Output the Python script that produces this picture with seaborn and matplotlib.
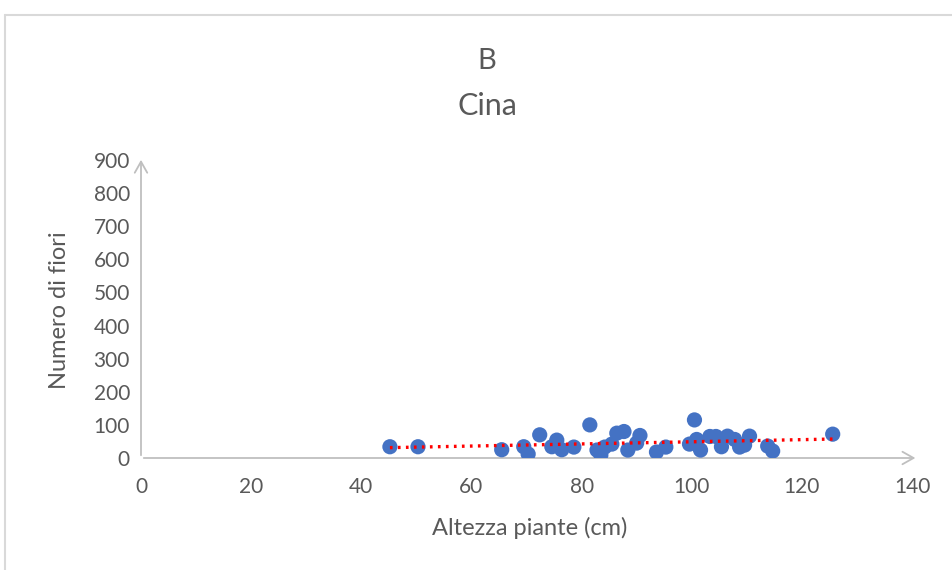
import matplotlib
matplotlib.use("Agg")
import matplotlib.pyplot as plt
from matplotlib.lines import Line2D
import seaborn as sns
import numpy as np
import pandas as pd

altezza = [45.2, 50.3, 65.5, 69.5, 70.3, 72.4, 74.6, 75.5, 76.4, 78.6, 81.5, 82.8,
           83.5, 84.2, 85.5, 86.4, 87.7, 88.4, 90.0, 90.6, 93.6, 95.3, 99.6, 100.5,
           100.9, 101.6, 103.3, 104.4, 105.4, 106.5, 107.8, 108.7, 109.6, 110.5,
           113.8, 114.7, 125.6]
fiori = [34, 34, 25, 34, 12, 70, 34, 54, 25, 33, 100, 24,
         9, 33, 42, 75, 80, 24, 45, 68, 18, 33, 42, 115,
         56, 24, 65, 65, 34, 66, 56, 33, 39, 66,
         36, 21, 72]

title_lines = ["B", "Cina"]
x_label = "Altezza piante (cm)"
y_label = "Numero di fiori"
x_ticks = [0, 20, 40, 60, 80, 100, 120, 140]
y_ticks = [0, 100, 200, 300, 400, 500, 600, 700, 800, 900]

df = pd.DataFrame({"x": altezza, "y": fiori})

sns.set_style("white")
plt.rcParams['font.family'] = ['Lato', 'DejaVu Sans']
gray = "#595959"

fig = plt.figure(figsize=(9.52, 5.70), dpi=100)
ax = fig.add_axes([141/952, 1-458/570, (912-141)/952, (458-160)/570])

sns.regplot(data=df, x="x", y="y", ax=ax, ci=None, truncate=True,
            scatter_kws=dict(s=120, color="#4472C4", alpha=1, edgecolor="none", zorder=3),
            line_kws=dict(color="#FF0000", linestyle=(0, (0.8, 1.6)), linewidth=2.4, zorder=4))

ax.set_xlim(0, 140)
ax.set_ylim(0, 900)
ax.set_xticks(x_ticks)
ax.set_yticks(y_ticks)
ax.tick_params(axis="both", length=0, labelsize=15, labelcolor=gray)
ax.tick_params(axis="x", pad=14)
ax.tick_params(axis="y", pad=8)
for s in ax.spines.values():
    s.set_visible(False)
ax.set_xlabel("")
ax.set_ylabel("")
fig.text(530/952, 1-528/570, x_label, ha="center", va="center", fontsize=17, color=gray)
fig.text(60/952, 1-310/570, y_label, ha="center", va="center", fontsize=17, color=gray,
         rotation=90)

arrow_kw = dict(arrowstyle="->,head_length=0.8,head_width=0.45", color="#bfbfbf", lw=1.3)
ax.annotate("", xy=(1.008, 0), xytext=(0, 0), xycoords="axes fraction",
            textcoords="axes fraction", arrowprops=arrow_kw, annotation_clip=False, zorder=1)
ax.annotate("", xy=(0, 1.01), xytext=(0, 0), xycoords="axes fraction",
            textcoords="axes fraction", arrowprops=arrow_kw, annotation_clip=False, zorder=1)

fig.text(487/952, 1-61/570, title_lines[0], ha="center", va="center", fontsize=21, color=gray)
fig.text(487/952, 1-106/570, title_lines[1], ha="center", va="center", fontsize=22, color=gray)

# chart border
fig.add_artist(Line2D([5/952, 1], [1-15/570, 1-15/570], color="#d9d9d9", lw=1.5))
fig.add_artist(Line2D([5/952, 5/952], [0, 1-15/570], color="#d9d9d9", lw=1.5))

fig.savefig("out.png", dpi=100)
